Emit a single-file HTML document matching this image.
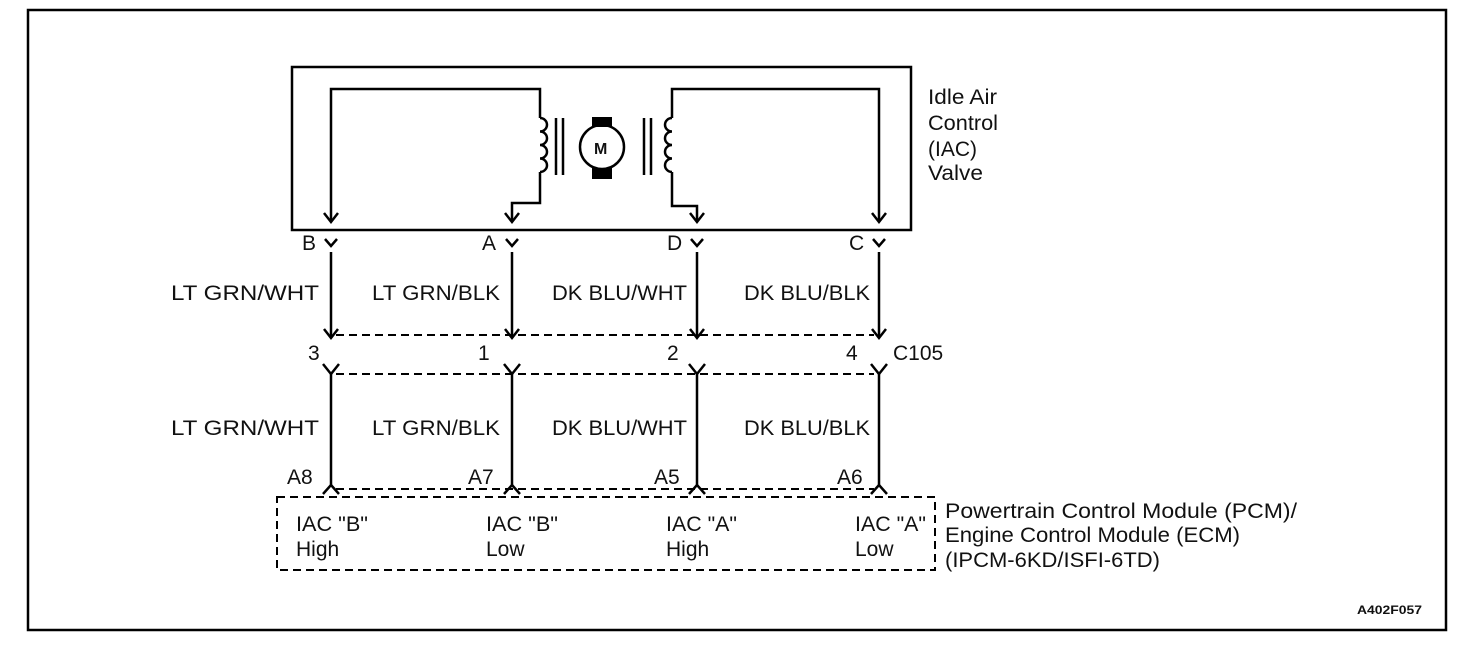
<!DOCTYPE html>
<html><head><style>
html,body{margin:0;padding:0;background:#fff;}
svg{display:block;}
text{font-family:"Liberation Sans",sans-serif;font-size:21px;fill:#111;}
</style></head><body>
<svg width="1472" height="662" viewBox="0 0 1472 662" xmlns="http://www.w3.org/2000/svg">
<rect x="28" y="10" width="1418" height="620" fill="none" stroke="#000" stroke-width="2.5"/>
<rect x="292" y="67" width="619" height="163" fill="none" stroke="#000" stroke-width="2.5"/>
<g fill="none" stroke="#000" stroke-width="2.5">
<path d="M331 222 V89 H540 V118 M540 172 V203 H512 V222"/>
<path d="M540 118 a7 6.75 0 0 1 0 13.5 a7 6.75 0 0 1 0 13.5 a7 6.75 0 0 1 0 13.5 a7 6.75 0 0 1 0 13.5"/>
<path d="M879 222 V89 H672 V118 M672 172 V206 H697 V222"/>
<path d="M672 118 a7 6.75 0 0 0 0 13.5 a7 6.75 0 0 0 0 13.5 a7 6.75 0 0 0 0 13.5 a7 6.75 0 0 0 0 13.5"/>
<path d="M324 213 L331 222 L338 213 M505 213 L512 222 L519 213 M690 213 L697 222 L704 213 M872 213 L879 222 L886 213"/>
<path d="M556 118 V175 M563 118 V175 M644 118 V175 M651 118 V175"/>
<circle cx="602" cy="147" r="22"/>
</g>
<rect x="592" y="117" width="20" height="10" fill="#000"/>
<rect x="592" y="168" width="20" height="11" fill="#000"/>
<text x="594" y="154" style="font-size:16px;font-weight:bold">M</text>
<g lengthAdjust="spacingAndGlyphs">
<text x="928" y="104" textLength="69" lengthAdjust="spacingAndGlyphs">Idle Air</text>
<text x="928" y="130" textLength="70" lengthAdjust="spacingAndGlyphs">Control</text>
<text x="928" y="156">(IAC)</text>
<text x="928" y="180" textLength="55" lengthAdjust="spacingAndGlyphs">Valve</text>
</g>
<text x="302" y="250">B</text><text x="482" y="250">A</text><text x="667" y="250">D</text><text x="849" y="250">C</text>
<g fill="none" stroke="#000" stroke-width="2.5">
<path d="M325 239 L331 246 L337 239 M506 239 L512 246 L518 239 M691 239 L697 246 L703 239 M873 239 L879 246 L885 239"/>
<path d="M331 252 V338 M512 252 V338 M697 252 V338 M879 252 V338"/>
<path d="M324 329 L331 338 L338 329 M505 329 L512 338 L519 329 M690 329 L697 338 L704 329 M872 329 L879 338 L886 329"/>
<path d="M323 364 L331 374 L339 364 M504 364 L512 374 L520 364 M689 364 L697 374 L705 364 M871 364 L879 374 L887 364"/>
<path d="M331 374 V485 M512 374 V485 M697 374 V485 M879 374 V485"/>
<path d="M323 494 L331 485 L339 494 M504 494 L512 485 L520 494 M689 494 L697 485 L705 494 M871 494 L879 485 L887 494"/>
</g>
<g fill="none" stroke="#000" stroke-width="2" stroke-dasharray="8,5">
<path d="M336 335 H874"/>
<path d="M336 374 H874"/>
<path d="M336 489 H874"/>
<rect x="277" y="497" width="658" height="73"/>
</g>
<text x="171" y="300" textLength="148" lengthAdjust="spacingAndGlyphs">LT GRN/WHT</text><text x="372" y="300" textLength="128" lengthAdjust="spacingAndGlyphs">LT GRN/BLK</text><text x="552" y="300" textLength="135" lengthAdjust="spacingAndGlyphs">DK BLU/WHT</text><text x="744" y="300" textLength="126" lengthAdjust="spacingAndGlyphs">DK BLU/BLK</text>
<text x="171" y="435" textLength="148" lengthAdjust="spacingAndGlyphs">LT GRN/WHT</text><text x="372" y="435" textLength="128" lengthAdjust="spacingAndGlyphs">LT GRN/BLK</text><text x="552" y="435" textLength="135" lengthAdjust="spacingAndGlyphs">DK BLU/WHT</text><text x="744" y="435" textLength="126" lengthAdjust="spacingAndGlyphs">DK BLU/BLK</text>
<text x="308" y="360">3</text><text x="478" y="360">1</text><text x="667" y="360">2</text><text x="846" y="360">4</text><text x="893" y="360">C105</text>
<text x="287" y="484">A8</text><text x="468" y="484">A7</text><text x="654" y="484">A5</text><text x="837" y="484">A6</text>
<text x="296" y="531" textLength="72" lengthAdjust="spacingAndGlyphs">IAC "B"</text><text x="296" y="556">High</text>
<text x="486" y="531" textLength="72" lengthAdjust="spacingAndGlyphs">IAC "B"</text><text x="486" y="556">Low</text>
<text x="666" y="531" textLength="71" lengthAdjust="spacingAndGlyphs">IAC "A"</text><text x="666" y="556">High</text>
<text x="855" y="531" textLength="71" lengthAdjust="spacingAndGlyphs">IAC "A"</text><text x="855" y="556">Low</text>
<text x="945" y="518" textLength="352" lengthAdjust="spacingAndGlyphs">Powertrain Control Module (PCM)/</text>
<text x="945" y="542" textLength="295" lengthAdjust="spacingAndGlyphs">Engine Control Module (ECM)</text>
<text x="945" y="567" textLength="215" lengthAdjust="spacingAndGlyphs">(IPCM-6KD/ISFI-6TD)</text>
<text x="1357" y="614" style="font-size:12px;font-weight:bold" textLength="65" lengthAdjust="spacingAndGlyphs">A402F057</text>
</svg>
</body></html>
